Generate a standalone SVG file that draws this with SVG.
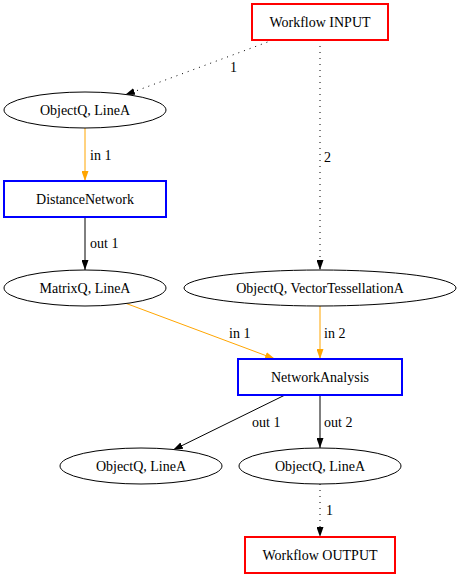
<svg xmlns="http://www.w3.org/2000/svg" width="460" height="577" viewBox="0 0 460 577">
<style>
text{font-family:'Liberation Serif','DejaVu Serif',serif;font-size:14px;fill:#000}
.n{text-anchor:middle}
.wf{fill:#fff;stroke:#f00;stroke-width:2}
.op{fill:#fff;stroke:#00f;stroke-width:2}
.dt{fill:#fff;stroke:#000;stroke-width:1}
.e{fill:none;stroke:#000;stroke-width:1}
.dot{stroke-dasharray:1,5}
.or{stroke:#ffa500}
</style>
<defs>
<marker id="ab" viewBox="0 0 10 7" refX="10" refY="3.5" markerWidth="10" markerHeight="7" markerUnits="userSpaceOnUse" orient="auto">
<polygon points="0,0 10,3.5 0,7" fill="#000"/>
</marker>
<marker id="ao" viewBox="0 0 10 7" refX="10" refY="3.5" markerWidth="10" markerHeight="7" markerUnits="userSpaceOnUse" orient="auto">
<polygon points="0,0 10,3.5 0,7" fill="#ffa500"/>
</marker>
</defs>
<rect width="460" height="577" fill="#fff"/>
<g id="connectors">
<path class="e dot" d="M273,40 L125,95" marker-end="url(#ab)"/>
<text x="230" y="72">1</text>
<path class="e dot" d="M320,40 L320,270" marker-end="url(#ab)"/>
<text x="324" y="162">2</text>
<path class="e or" d="M85,128 L85,181" marker-end="url(#ao)"/>
<text x="90" y="160">in 1</text>
<path class="e" d="M85,217 L85,270" marker-end="url(#ab)"/>
<text x="90" y="248">out 1</text>
<path class="e or" d="M125,303 L275,359" marker-end="url(#ao)"/>
<text x="229" y="338">in 1</text>
<path class="e or" d="M320,306 L320,359" marker-end="url(#ao)"/>
<text x="324" y="338">in 2</text>
<path class="e" d="M285,395 L173,450" marker-end="url(#ab)"/>
<text x="252" y="427">out 1</text>
<path class="e" d="M320,395 L320,448" marker-end="url(#ab)"/>
<text x="324" y="427">out 2</text>
<path class="e dot" d="M320,484 L320,537" marker-end="url(#ab)"/>
<text x="326" y="515">1</text>
</g>
<g id="wf_input"><rect class="wf" x="252" y="4" width="136" height="36"/><text class="n" x="320" y="27">Workflow INPUT</text></g>
<g id="obj_line_1"><ellipse class="dt" cx="85" cy="110" rx="81" ry="18"/><text class="n" x="85" y="115">ObjectQ, LineA</text></g>
<g id="distance_network"><rect class="op" x="4" y="181" width="162" height="36"/><text class="n" x="85" y="204">DistanceNetwork</text></g>
<g id="matrix_line"><ellipse class="dt" cx="85" cy="288" rx="81" ry="18"/><text class="n" x="85" y="293">MatrixQ, LineA</text></g>
<g id="obj_vt"><ellipse class="dt" cx="320" cy="288" rx="136" ry="18"/><text class="n" x="320" y="293">ObjectQ, VectorTessellationA</text></g>
<g id="network_analysis"><rect class="op" x="238" y="359" width="164" height="36"/><text class="n" x="320" y="382">NetworkAnalysis</text></g>
<g id="obj_line_out1"><ellipse class="dt" cx="141" cy="466" rx="81" ry="18"/><text class="n" x="141" y="471">ObjectQ, LineA</text></g>
<g id="obj_line_out2"><ellipse class="dt" cx="320" cy="466" rx="81" ry="18"/><text class="n" x="320" y="471">ObjectQ, LineA</text></g>
<g id="wf_output"><rect class="wf" x="245" y="537" width="150" height="36"/><text class="n" x="320" y="560">Workflow OUTPUT</text></g>
</svg>
